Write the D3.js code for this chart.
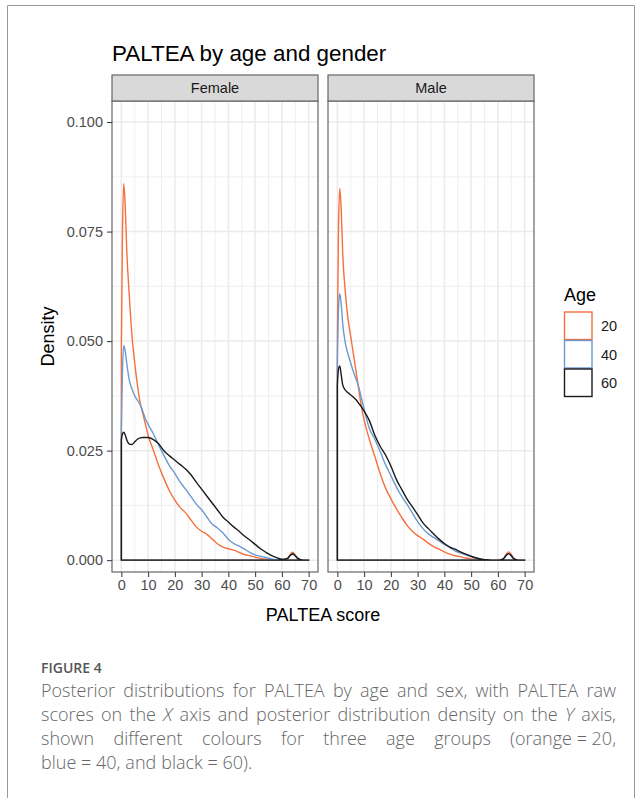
<!DOCTYPE html>
<html>
<head>
<meta charset="utf-8">
<style>
body {
  margin: 0;
  background-color: #ffffff;
}
svg {
  display: block;
}
.axis text {
  font: 14.5px "Liberation Sans", Arial, sans-serif;
  fill: #4D4D4D;
}
.axis path {
  display: none;
}
.axis line {
  stroke: #333333;
  stroke-width: 1px;
}
</style>
</head>
<body>
<svg width="641" height="798"></svg>
<script src="https://d3js.org/d3.v7.min.js"></script>
<script>
// ---- data ----
var panels = ["Female", "Male"];
var ages = ["20", "40", "60"];
var ageColours = ["#F4703E", "#6C9ACF", "#1A1A1A"];

var xTicks = [0, 10, 20, 30, 40, 50, 60, 70];
var yTicks = [0, 0.025, 0.05, 0.075, 0.1];

// PALTEA score at which each density value was read
var score = [0, 0.4, 0.9, 1.5, 2, 3, 4, 5, 6, 7, 8, 9, 10, 12, 14, 16, 18, 20, 22, 24, 26, 28, 30,
  32, 34, 36, 38, 40, 42, 44, 46, 48, 50, 52, 54, 56, 58, 60, 62, 63, 64, 65, 66, 68, 70];

var female20 = [0.048, 0.074, 0.086, 0.080, 0.071, 0.060, 0.051, 0.045, 0.040, 0.036, 0.0335, 0.031, 0.0285,
  0.025, 0.0215, 0.0185, 0.0158, 0.0137, 0.012, 0.0108, 0.0092, 0.0076, 0.0066, 0.0059, 0.0048, 0.0037,
  0.003, 0.0026, 0.0023, 0.0018, 0.0013, 0.001, 0.0007, 0.0004, 0.0002, 0.0001, 0, 0, 0.0002, 0.0012,
  0.0018, 0.0012, 0.0003, 0, 0];
var female40 = [0.030, 0.043, 0.049, 0.0475, 0.045, 0.041, 0.039, 0.0375, 0.0365, 0.0355, 0.034, 0.0322, 0.031,
  0.0288, 0.0262, 0.0238, 0.0215, 0.0198, 0.0178, 0.0162, 0.0145, 0.0128, 0.0115, 0.0098, 0.0082, 0.0073,
  0.0062, 0.0048, 0.0038, 0.0032, 0.0025, 0.0018, 0.0012, 0.0009, 0.0006, 0.0003, 0.0001, 0, 0.0002, 0.001,
  0.0015, 0.001, 0.0003, 0, 0];
var female60 = [0.0275, 0.0288, 0.0292, 0.0285, 0.0275, 0.0265, 0.0264, 0.027, 0.0276, 0.0279, 0.028, 0.028, 0.028,
  0.0275, 0.0265, 0.0249, 0.0238, 0.0228, 0.0218, 0.0208, 0.0195, 0.0178, 0.0162, 0.0146, 0.013, 0.0114,
  0.0098, 0.0087, 0.0076, 0.0066, 0.0055, 0.0046, 0.0036, 0.0026, 0.0018, 0.0011, 0.0006, 0.0002, 0.0004, 0.001,
  0.0014, 0.001, 0.0004, 0, 0];

var male20 = [0.050, 0.075, 0.0849, 0.079, 0.070, 0.061, 0.055, 0.051, 0.047, 0.043, 0.039, 0.035, 0.032,
  0.0275, 0.0237, 0.0198, 0.0165, 0.014, 0.0118, 0.0098, 0.008, 0.0066, 0.0056, 0.0048, 0.0039, 0.0031,
  0.0025, 0.0019, 0.0014, 0.001, 0.0008, 0.0005, 0.0003, 0.0001, 0, 0, 0, 0, 0.0003, 0.0013,
  0.0019, 0.0013, 0.0004, 0, 0];
var male40 = [0.045, 0.057, 0.0608, 0.058, 0.054, 0.0495, 0.047, 0.045, 0.043, 0.0413, 0.0395, 0.037, 0.0345,
  0.030, 0.0276, 0.0248, 0.0218, 0.0193, 0.0168, 0.0146, 0.0128, 0.0108, 0.0088, 0.0072, 0.006, 0.0052,
  0.0044, 0.0036, 0.0029, 0.0021, 0.0016, 0.0012, 0.0008, 0.0004, 0.0001, 0, 0, 0, 0.0002, 0.001,
  0.0015, 0.001, 0.0003, 0, 0];
var male60 = [0.040, 0.0435, 0.0443, 0.042, 0.040, 0.0388, 0.0382, 0.0377, 0.0372, 0.0366, 0.0358, 0.035, 0.034,
  0.0318, 0.0285, 0.026, 0.024, 0.0215, 0.0185, 0.0162, 0.014, 0.0122, 0.0104, 0.0085, 0.0072, 0.006,
  0.0048, 0.0038, 0.003, 0.0025, 0.0019, 0.0014, 0.0009, 0.0005, 0.0002, 0.0001, 0, 0, 0.0003, 0.001,
  0.0015, 0.001, 0.0003, 0, 0];

var densities = {Female: [female20, female40, female60], Male: [male20, male40, male60]};

// caption lines; words inside one justified unit are joined by no-break spaces
var captionLines = [
  "Posterior distributions for PALTEA by age and sex, with PALTEA raw",
  "scores on the |X| axis and posterior distribution density on the |Y| axis,",
  "shown different colours for three age groups (orange\u00a0=\u00a020,",
  "blue\u00a0=\u00a040, and black\u00a0=\u00a060)."
];

// ---- layout ----
var svg = d3.select("svg");
var font = '"Liberation Sans", Arial, sans-serif';

// page frame
svg.append("path")
    .attr("d", "M7.5,798V5.5H634.5V798")
    .attr("fill", "none")
    .attr("stroke", "#9a9a9a")
    .attr("stroke-width", 1);

var panelTop = 101, panelBottom = 572, panelW = 206;
var panelLefts = [112, 328];
var stripTop = 75;

var y = d3.scaleLinear()
    .domain([-0.0027, 0.1048])
    .range([panelBottom, panelTop]);

svg.append("text")
    .attr("x", 112)
    .attr("y", 61)
    .attr("font-family", font)
    .attr("font-size", 22.4)
    .attr("fill", "#000")
    .text("PALTEA by age and gender");

var line = d3.line()
    .x(function(d) { return d[0]; })
    .y(function(d) { return d[1]; })
    .curve(d3.curveMonotoneX);

panels.forEach(function(p, pi) {
  var left = panelLefts[pi];
  var x = d3.scaleLinear().domain([-3.5, 73.5]).range([left, left + panelW]);
  var g = svg.append("g");

  // grid: minor then major
  var xMinor = d3.range(5, 70, 10), yMinor = [0.0125, 0.0375, 0.0625, 0.0875];
  g.selectAll(".xminor").data(xMinor).enter().append("line")
      .attr("x1", x).attr("x2", x).attr("y1", panelTop).attr("y2", panelBottom)
      .attr("stroke", "#EBEBEB").attr("stroke-width", 0.8);
  g.selectAll(".yminor").data(yMinor).enter().append("line")
      .attr("y1", y).attr("y2", y).attr("x1", left).attr("x2", left + panelW)
      .attr("stroke", "#EBEBEB").attr("stroke-width", 0.8);
  g.selectAll(".xmajor").data(xTicks).enter().append("line")
      .attr("x1", x).attr("x2", x).attr("y1", panelTop).attr("y2", panelBottom)
      .attr("stroke", "#EBEBEB").attr("stroke-width", 1.5);
  g.selectAll(".ymajor").data(yTicks).enter().append("line")
      .attr("y1", y).attr("y2", y).attr("x1", left).attr("x2", left + panelW)
      .attr("stroke", "#EBEBEB").attr("stroke-width", 1.5);

  // density outlines, 60 on top
  densities[p].forEach(function(vals, ai) {
    var pts = score.map(function(s, i) { return [x(s), y(vals[i])]; });
    var d = "M" + x(0) + "," + y(0) + line(pts).replace(/^M/, "L") +
            "L" + x(score[score.length - 1]) + "," + y(0) + "Z";
    g.append("path")
        .attr("d", d)
        .attr("fill", "none")
        .attr("stroke", ageColours[ai])
        .attr("stroke-width", 1.4)
        .attr("stroke-linejoin", "round");
  });

  // panel border
  g.append("rect")
      .attr("x", left).attr("y", panelTop)
      .attr("width", panelW).attr("height", panelBottom - panelTop)
      .attr("fill", "none").attr("stroke", "#666").attr("stroke-width", 1.2);

  // strip
  g.append("rect")
      .attr("x", left).attr("y", stripTop)
      .attr("width", panelW).attr("height", panelTop - stripTop)
      .attr("fill", "#D9D9D9").attr("stroke", "#666").attr("stroke-width", 1.2);
  g.append("text")
      .attr("x", left + panelW / 2)
      .attr("y", (stripTop + panelTop) / 2)
      .attr("dy", "0.35em")
      .attr("text-anchor", "middle")
      .attr("font-family", font)
      .attr("font-size", 14.5)
      .attr("fill", "#1A1A1A")
      .text(p);

  // x axis
  svg.append("g")
      .attr("class", "axis")
      .attr("transform", "translate(0," + panelBottom + ")")
      .call(d3.axisBottom(x).tickValues(xTicks).tickSize(5).tickPadding(3).tickFormat(d3.format("d")));
});

// y axis
svg.append("g")
    .attr("class", "axis")
    .attr("transform", "translate(" + panelLefts[0] + ",0)")
    .call(d3.axisLeft(y).tickValues(yTicks).tickSize(5).tickPadding(4).tickFormat(d3.format(".3f")));

// axis titles
svg.append("text")
    .attr("x", (panelLefts[0] + panelLefts[1] + panelW) / 2)
    .attr("y", 621)
    .attr("text-anchor", "middle")
    .attr("font-family", font)
    .attr("font-size", 18)
    .attr("fill", "#000")
    .text("PALTEA score");

svg.append("text")
    .attr("transform", "translate(54," + (panelTop + panelBottom) / 2 + ") rotate(-90)")
    .attr("text-anchor", "middle")
    .attr("font-family", font)
    .attr("font-size", 18)
    .attr("fill", "#000")
    .text("Density");

// legend
var legend = svg.append("g").attr("transform", "translate(564,311.5)");
legend.append("text")
    .attr("x", 0).attr("y", -11)
    .attr("font-family", font)
    .attr("font-size", 18)
    .attr("fill", "#000")
    .text("Age");
var keys = legend.selectAll(".key").data(ages).enter().append("g")
    .attr("transform", function(d, i) { return "translate(0," + i * 28.5 + ")"; });
keys.append("rect")
    .attr("x", 0.5).attr("y", 0.5)
    .attr("width", 27.5).attr("height", 27.5)
    .attr("fill", "#fff")
    .attr("stroke", function(d, i) { return ageColours[i]; })
    .attr("stroke-width", 1.4);
keys.append("text")
    .attr("x", 37).attr("y", 14.5)
    .attr("dy", "0.35em")
    .attr("font-family", font)
    .attr("font-size", 14.5)
    .attr("fill", "#1A1A1A")
    .text(function(d) { return d; });

// caption
var capFont = '"Open Sans", "Noto Sans", sans-serif';
svg.append("text")
    .attr("x", 41).attr("y", 673)
    .attr("font-family", capFont)
    .attr("font-size", 14)
    .attr("font-weight", 600)
    .attr("fill", "#555")
    .text("FIGURE 4");

var capLeft = 41, capRight = 616;
captionLines.forEach(function(ln, li) {
  var words = ln.split(" ");
  var t = svg.append("text")
      .attr("y", 697 + li * 24)
      .attr("font-family", capFont)
      .attr("font-size", 18)
      .attr("font-weight", 300)
      .attr("fill", "#666")
      .style("white-space", "pre");
  var spans = words.map(function(w) {
    var parts = w.split("|");
    var s = t.append("tspan");
    parts.forEach(function(part, k) {
      if (!part) return;
      s.append("tspan").attr("font-style", k % 2 ? "italic" : null).text(part);
    });
    return s;
  });
  var widths = spans.map(function(s) { return s.node().getComputedTextLength(); });
  var total = d3.sum(widths);
  var gap = li < captionLines.length - 1 ? (capRight - capLeft - total) / (words.length - 1) : 5;
  var cx = capLeft;
  spans.forEach(function(s, i) {
    s.attr("x", cx);
    cx += widths[i] + gap;
  });
});
</script>
</body>
</html>
